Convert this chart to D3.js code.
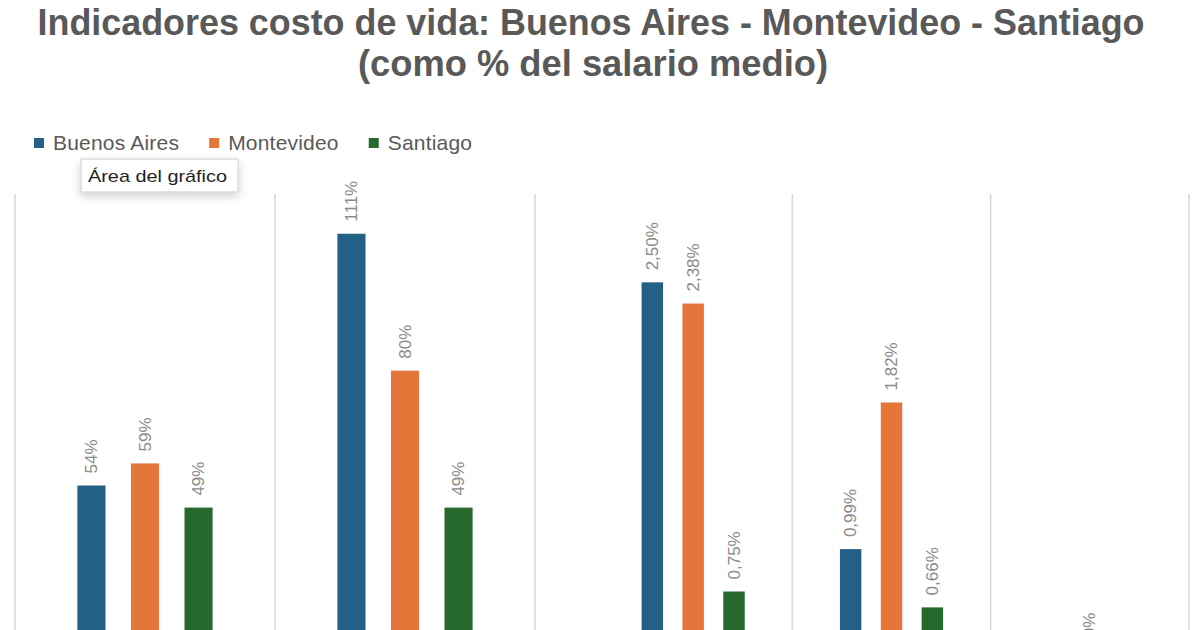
<!DOCTYPE html>
<html>
<head>
<meta charset="utf-8">
<script src="https://cdn.jsdelivr.net/npm/d3@7"></script>
<style>
  html, body { margin: 0; padding: 0; background: #ffffff; }
  svg { display: block; overflow: hidden; }
</style>
</head>
<body>
<div id="chart"></div>
<script>
// ---- data ----
const titleLines = ["Indicadores costo de vida: Buenos Aires - Montevideo - Santiago", "(como % del salario medio)"];
const seriesNames = ["Buenos Aires", "Montevideo", "Santiago"];
const seriesColors = ["#245f85", "#e5763a", "#256a2c"];
// left group (percent of average salary)
const categoriesA = ["Indicador 1", "Indicador 2"];
const buenosAiresA = [54, 111];
const montevideoA = [59, 80];
const santiagoA = [49, 49];
// right group (smaller indicators)
const categoriesB = ["Indicador 3", "Indicador 4", "Indicador 5"];
const buenosAiresB = [2.50, 0.99, 0.15];
const montevideoB = [2.38, 1.82, 0.29];
const santiagoB = [0.75, 0.66, 0.10];
const tooltipText = "Área del gráfico";

// ---- setup ----
const W = 1200, H = 630;
const svg = d3.select("#chart").append("svg").attr("width", W).attr("height", H);
const locale = d3.formatLocale({decimal: ",", thousands: ".", grouping: [3], currency: ["$", ""]});
const fmtA = v => locale.format(".0f")(v) + "%";
const fmtB = v => locale.format(".2f")(v) + "%";

const plotTop = 194, plotBottom = 724;
const xA = d3.scaleBand().domain(categoriesA).range([15, 535]);
const xB = d3.scaleBand().domain(categoriesB).range([594, 1189]);
const yA = d3.scaleLinear().domain([0, 120]).range([plotBottom, plotTop]);
const yB = d3.scaleLinear().domain([0, 3]).range([plotBottom, plotTop]);

const rowsA = categoriesA.map((c, i) => ({cat: c, vals: [buenosAiresA[i], montevideoA[i], santiagoA[i]]}));
const rowsB = categoriesB.map((c, i) => ({cat: c, vals: [buenosAiresB[i], montevideoB[i], santiagoB[i]]}));

// ---- title ----
const titleG = svg.append("g");
titleG.append("text").attr("x", 591).attr("y", 35).attr("text-anchor", "middle")
  .attr("font-family", "'Liberation Sans', Arial, sans-serif").attr("font-weight", 700)
  .attr("font-size", 36).attr("fill", "#595959")
  .attr("textLength", 1107).attr("lengthAdjust", "spacingAndGlyphs").text(titleLines[0]);
titleG.append("text").attr("x", 593).attr("y", 76).attr("text-anchor", "middle")
  .attr("font-family", "'Liberation Sans', Arial, sans-serif").attr("font-weight", 700)
  .attr("font-size", 36).attr("fill", "#595959")
  .attr("textLength", 470).attr("lengthAdjust", "spacingAndGlyphs").text(titleLines[1]);

// ---- gridlines (category separators) ----
const sepXs = [xA.range()[0]].concat(categoriesA.map(c => xA(c) + xA.bandwidth()))
  .concat(categoriesB.map(c => xB(c) + xB.bandwidth()));
svg.append("g").selectAll("line").data(sepXs).join("line")
  .attr("x1", d => d).attr("x2", d => d)
  .attr("y1", plotTop).attr("y2", plotBottom)
  .attr("stroke", "#d9d9d9").attr("stroke-width", 1.6);

// ---- bars ----
function drawGroup(rows, x, y, fmt) {
  const sub = d3.scaleBand().domain(seriesNames).range([0, x.bandwidth()])
    .paddingInner(0.475).paddingOuter(1.165);
  const g = svg.append("g");
  const cg = g.selectAll("g.cat").data(rows).join("g").attr("class", "cat")
    .attr("transform", d => `translate(${x(d.cat)},0)`);
  const items = d => d.vals.map((v, i) => ({v, s: seriesNames[i], i}));
  cg.selectAll("rect").data(items).join("rect")
    .attr("x", d => sub(d.s)).attr("width", sub.bandwidth())
    .attr("y", d => y(d.v)).attr("height", d => y(0) - y(d.v))
    .attr("fill", d => seriesColors[d.i]);
  cg.selectAll("text").data(items).join("text")
    .attr("transform", d => `translate(${sub(d.s) + sub.bandwidth() / 2},${y(d.v) - 12}) rotate(-90)`)
    .attr("text-anchor", "start").attr("dominant-baseline", "central")
    .attr("font-family", "'Liberation Sans', Arial, sans-serif").attr("font-size", 17)
    .attr("fill", "#8a8a8a").text(d => fmt(d.v));
}
drawGroup(rowsA, xA, yA, fmtA);
drawGroup(rowsB, xB, yB, fmtB);

// ---- legend ----
const lg = svg.append("g");
let lx = 34;
seriesNames.forEach((s, i) => {
  lg.append("rect").attr("x", lx).attr("y", 138).attr("width", 10).attr("height", 10).attr("fill", seriesColors[i]);
  const t = lg.append("text").attr("x", lx + 19).attr("y", 149.5)
    .attr("font-family", "'Liberation Sans', Arial, sans-serif").attr("font-size", 21)
    .attr("letter-spacing", 0.2)
    .attr("fill", "#595959").text(s);
  lx += 19 + t.node().getComputedTextLength() + 30;
});

// ---- tooltip ----
const defs = svg.append("defs");
const f = defs.append("filter").attr("id", "shadow").attr("x", "-20%").attr("y", "-30%").attr("width", "140%").attr("height", "200%");
f.append("feDropShadow").attr("dx", 0).attr("dy", 4).attr("stdDeviation", 5).attr("flood-color", "#000").attr("flood-opacity", 0.18);
const tg = svg.append("g");
tg.append("rect").attr("x", 81).attr("y", 159).attr("width", 157).attr("height", 33)
  .attr("fill", "#ffffff").attr("stroke", "#cccccc").attr("stroke-width", 1).attr("filter", "url(#shadow)");
tg.append("text").attr("x", 88).attr("y", 182)
  .attr("font-family", "'Liberation Sans', Arial, sans-serif").attr("font-size", 17)
  .attr("font-weight", 500)
  .attr("fill", "#1f1f1f").attr("textLength", 139).attr("lengthAdjust", "spacingAndGlyphs").text(tooltipText);
</script>
</body>
</html>
